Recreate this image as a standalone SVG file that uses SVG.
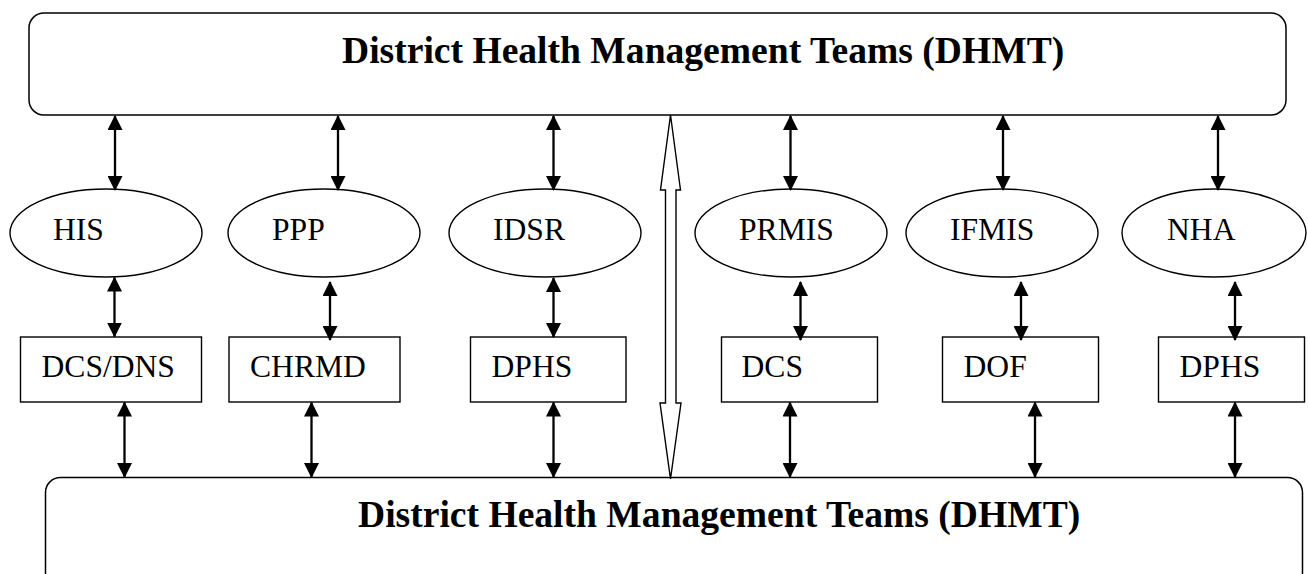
<svg xmlns="http://www.w3.org/2000/svg" width="1308" height="574" viewBox="0 0 1308 574">
<defs>
<style>
.frame{fill:#fff;stroke:#000;stroke-width:1.5}
.ell{fill:#fff;stroke:#000;stroke-width:1.4}
.box{fill:#fff;stroke:#000;stroke-width:1.4}
.title{font-family:"Liberation Serif","Times New Roman",serif;font-weight:bold;font-size:37.6px;fill:#000}
.lbl{font-family:"Liberation Serif","Times New Roman",serif;font-size:31.6px;fill:#000}
.conn{stroke:#000;stroke-width:2.3;fill:none;marker-start:url(#ah);marker-end:url(#ah)}
</style>
<marker id="ah" viewBox="0 0 15 15" refX="14" refY="7.5" markerWidth="15" markerHeight="15" markerUnits="userSpaceOnUse" orient="auto-start-reverse">
<path d="M0,0 L15,7.5 L0,15 Z" fill="#000"/>
</marker>
</defs>
<g id="dhmt-top">
<rect class="frame" x="29" y="13" width="1257" height="102" rx="15"/>
<text class="title" x="342" y="63">District Health Management Teams (DHMT)</text>
</g>
<g id="dhmt-bottom">
<rect class="frame" x="45.5" y="477.5" width="1257" height="110" rx="15"/>
<text class="title" x="358" y="527">District Health Management Teams (DHMT)</text>
</g>
<g id="his"><ellipse class="ell" cx="106" cy="233" rx="96" ry="44"/><text class="lbl" x="53" y="240">HIS</text></g>
<g id="ppp"><ellipse class="ell" cx="324" cy="233" rx="96" ry="44"/><text class="lbl" x="272" y="240">PPP</text></g>
<g id="idsr"><ellipse class="ell" cx="545" cy="233" rx="96" ry="44"/><text class="lbl" x="493" y="240">IDSR</text></g>
<g id="prmis"><ellipse class="ell" cx="791" cy="233" rx="96" ry="44"/><text class="lbl" x="739" y="240">PRMIS</text></g>
<g id="ifmis"><ellipse class="ell" cx="1002" cy="233" rx="96" ry="44"/><text class="lbl" x="950" y="240">IFMIS</text></g>
<g id="nha"><ellipse class="ell" cx="1214" cy="233" rx="92" ry="44"/><text class="lbl" x="1167" y="240">NHA</text></g>
<g id="dcs-dns"><rect class="box" x="20.5" y="337" width="181" height="65"/><text class="lbl" x="41.5" y="377">DCS/DNS</text></g>
<g id="chrmd"><rect class="box" x="229" y="337" width="171" height="65"/><text class="lbl" x="250" y="377">CHRMD</text></g>
<g id="dphs-1"><rect class="box" x="470.5" y="337" width="155.5" height="65"/><text class="lbl" x="491.5" y="377">DPHS</text></g>
<g id="dcs"><rect class="box" x="721.5" y="337" width="156" height="65"/><text class="lbl" x="741.5" y="377">DCS</text></g>
<g id="dof"><rect class="box" x="942.5" y="337" width="156" height="65"/><text class="lbl" x="963.5" y="377">DOF</text></g>
<g id="dphs-2"><rect class="box" x="1158.5" y="337" width="146" height="65"/><text class="lbl" x="1179.5" y="377">DPHS</text></g>
<g id="connectors">
<line class="conn" x1="115" y1="116" x2="115" y2="190"/>
<line class="conn" x1="338" y1="116" x2="338" y2="190"/>
<line class="conn" x1="553.5" y1="116" x2="553.5" y2="190"/>
<line class="conn" x1="790.5" y1="116" x2="790.5" y2="190"/>
<line class="conn" x1="1003" y1="116" x2="1003" y2="190"/>
<line class="conn" x1="1218" y1="116" x2="1218" y2="190"/>
<line class="conn" x1="114.5" y1="277.5" x2="114.5" y2="336.5"/>
<line class="conn" x1="330" y1="282" x2="330" y2="340"/>
<line class="conn" x1="553.5" y1="278" x2="553.5" y2="337"/>
<line class="conn" x1="800.5" y1="282" x2="800.5" y2="340"/>
<line class="conn" x1="1021" y1="282" x2="1021" y2="340"/>
<line class="conn" x1="1235" y1="282" x2="1235" y2="340"/>
<line class="conn" x1="124.5" y1="402.5" x2="124.5" y2="477"/>
<line class="conn" x1="311.5" y1="402.5" x2="311.5" y2="477"/>
<line class="conn" x1="553.5" y1="402.5" x2="553.5" y2="477"/>
<line class="conn" x1="790" y1="402.5" x2="790" y2="477"/>
<line class="conn" x1="1035" y1="402.5" x2="1035" y2="477"/>
<line class="conn" x1="1235" y1="402.5" x2="1235" y2="477"/>
<path d="M670.5,115 L680.5,190 L676,190 L676,403 L681,403 L670.5,479 L660,403 L665.5,403 L665.5,190 L660.5,190 Z" fill="#fff" stroke="#000" stroke-width="1.4" stroke-linejoin="miter"/>
</g>
</svg>
